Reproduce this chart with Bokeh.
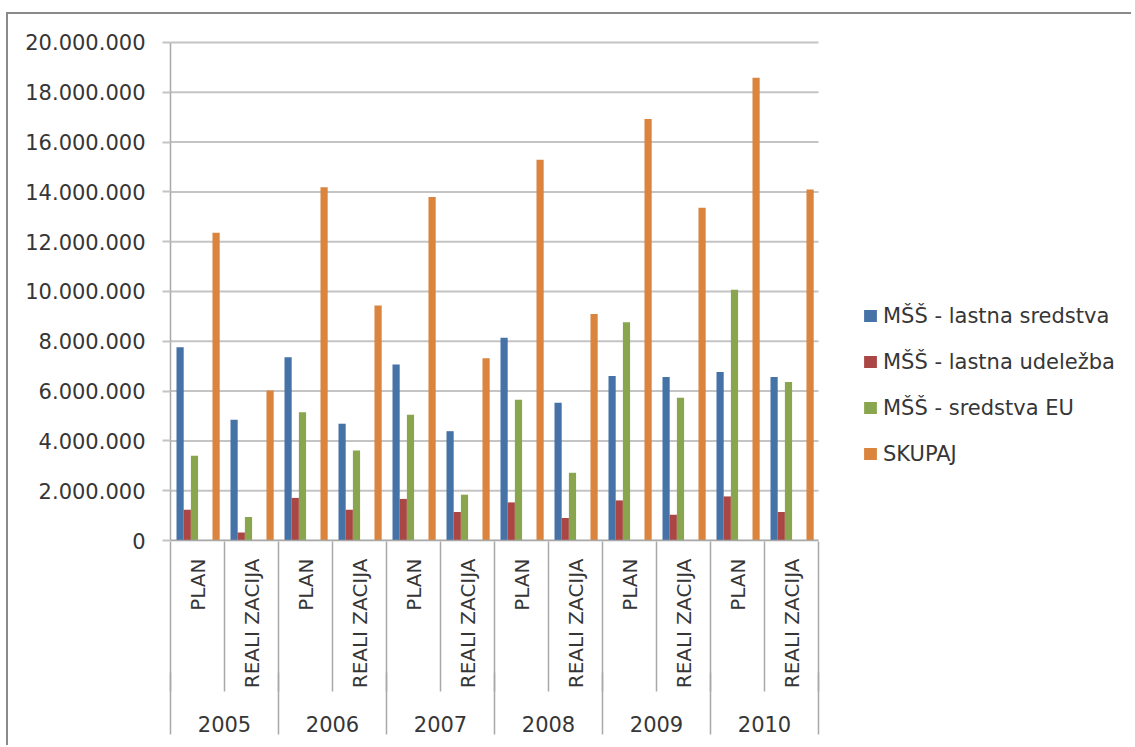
import math
from bokeh.plotting import figure
from bokeh.models import Range1d, FixedTicker, LinearAxis, Legend, LegendItem, ColumnDataSource
from bokeh.embed import file_html
from bokeh.resources import INLINE

# ---------------- data ----------------
years = ["2005", "2006", "2007", "2008", "2009", "2010"]
phases = ["PLAN", "REALI ZACIJA"]
series_names = ["MŠŠ - lastna sredstva", "MŠŠ - lastna udeležba", "MŠŠ - sredstva EU", "SKUPAJ"]

lastna_sredstva = [7760000, 4850000, 7360000, 4690000, 7070000, 4390000,
                   8140000, 5530000, 6610000, 6570000, 6770000, 6570000]
lastna_udelezba = [1230000, 320000, 1710000, 1230000, 1670000, 1140000,
                   1530000, 900000, 1610000, 1030000, 1770000, 1140000]
sredstva_eu = [3400000, 940000, 5150000, 3610000, 5050000, 1840000,
               5650000, 2720000, 8760000, 5730000, 10070000, 6370000]
skupaj = [12360000, 6020000, 14190000, 9440000, 13790000, 7320000,
          15290000, 9100000, 16930000, 13360000, 18580000, 14100000]

y_ticks = [0, 2000000, 4000000, 6000000, 8000000, 10000000,
           12000000, 14000000, 16000000, 18000000, 20000000]

colors = ["#4572A7", "#AA4643", "#89A54E", "#DB843D"]

# ---------------- layout constants ----------------
FONT = "DejaVu Sans"
TEXT_COLOR = "#363636"
LINE_GRAY = "#a8a8a8"
GRID_GRAY = "#c4c4c4"

W, H = 1125, 733
LEFT, TOP, BOTTOM = 162, 26, 207
CAT_PX = 54                      # pixel width of one category
n = len(years) * len(phases)
frame_w = W - LEFT
x_end = frame_w / CAT_PX

slot_w = 0.1333                 # width of one bar slot (fraction of a category)
first_left = 0.111              # left edge of first slot
slot_index = [0, 1, 2, 5]       # two empty slots before the total bar

values = [lastna_sredstva, lastna_udelezba, sredstva_eu, skupaj]

p = figure(width=W, height=H,
           x_range=Range1d(0, x_end), y_range=Range1d(0, 20080000),
           output_backend="svg", toolbar_location=None,
           min_border_left=LEFT, min_border_right=0,
           min_border_top=TOP, min_border_bottom=BOTTOM,
           x_axis_type=None, y_axis_type=None)
p.outline_line_color = None
p.background_fill_color = "white"
p.border_fill_color = "white"
p.xgrid.visible = False
p.ygrid.visible = False
p.styles = {"border-left": "2px solid #8a8a8a", "border-top": "2px solid #8a8a8a",
            "margin-left": "6px", "margin-top": "12px"}

# horizontal gridlines over the category span
p.segment(x0=[0] * len(y_ticks), x1=[n] * len(y_ticks), y0=y_ticks, y1=y_ticks,
          line_color=GRID_GRAY, line_width=2, level="underlay")

renderers = []
for k, vals in enumerate(values):
    off = first_left + slot_w * (slot_index[k] + 0.5)
    src = ColumnDataSource(dict(x=[i + off for i in range(n)], top=vals))
    r = p.vbar(x="x", top="top", width=slot_w, source=src,
               fill_color=colors[k], line_color=None)
    renderers.append(r)

# ---------------- y axis ----------------
yax = LinearAxis(ticker=FixedTicker(ticks=y_ticks, minor_ticks=[]))
yax.major_label_overrides = {v: f"{v:,}".replace(",", ".") for v in y_ticks}
yax.bounds = (0, 20000000)
yax.axis_line_color = LINE_GRAY
yax.axis_line_width = 1.5
yax.major_tick_out = 8
yax.major_tick_in = 0
yax.major_tick_line_color = GRID_GRAY
yax.major_tick_line_width = 2
yax.minor_tick_line_color = None
yax.major_label_standoff = 17
yax.major_label_text_font = FONT
yax.major_label_text_font_size = "21px"
yax.major_label_text_color = TEXT_COLOR
p.add_layout(yax, "left")

# ---------------- x axis: phases ----------------
centers = [i + 0.5 for i in range(n)]
ax1 = LinearAxis(ticker=FixedTicker(ticks=centers, minor_ticks=[]))
ax1.major_label_overrides = {c: phases[i % len(phases)] for i, c in enumerate(centers)}
ax1.bounds = (0, n)
ax1.axis_line_color = LINE_GRAY
ax1.axis_line_width = 1.5
ax1.major_tick_line_color = None
ax1.major_tick_out = 0
ax1.major_tick_in = 0
ax1.minor_tick_line_color = None
ax1.major_label_orientation = math.pi / 2
ax1.major_label_standoff = 18
ax1.major_label_text_font = FONT
ax1.major_label_text_font_size = "20px"
ax1.major_label_text_color = TEXT_COLOR
p.add_layout(ax1, "below")

# ---------------- x axis: years (+ separators between categories) ----------------
ycenters = [2 * j + 1 for j in range(len(years))]
ax2 = LinearAxis(ticker=FixedTicker(ticks=ycenters, minor_ticks=list(range(n + 1))))
ax2.major_label_overrides = {c: years[j] for j, c in enumerate(ycenters)}
ax2.bounds = (0, n)
ax2.axis_line_color = None
ax2.major_tick_line_color = None
ax2.major_tick_out = 0
ax2.major_tick_in = 0
ax2.minor_tick_line_color = LINE_GRAY
ax2.minor_tick_line_width = 1.5
ax2.minor_tick_out = 0
ax2.minor_tick_in = 150
ax2.major_label_standoff = 24
ax2.major_label_text_font = FONT
ax2.major_label_text_font_size = "21px"
ax2.major_label_text_color = TEXT_COLOR
p.add_layout(ax2, "below")

# ---------------- year separators (lower part) ----------------
ax3 = LinearAxis(ticker=FixedTicker(ticks=list(range(0, n + 1, 2)), minor_ticks=[]))
ax3.major_label_overrides = {t: "" for t in range(0, n + 1, 2)}
ax3.bounds = (0, n)
ax3.axis_line_color = None
ax3.major_tick_line_color = LINE_GRAY
ax3.major_tick_line_width = 1.5
ax3.major_tick_out = 0
ax3.major_tick_in = 62
ax3.minor_tick_line_color = None
ax3.major_label_standoff = 0
ax3.major_label_text_font_size = "1px"
p.add_layout(ax3, "below")

# ---------------- legend ----------------
legend = Legend(items=[LegendItem(label=series_names[k], renderers=[renderers[k]])
                       for k in range(len(series_names))],
                location=(692, 74), orientation="vertical")
legend.border_line_color = None
legend.background_fill_alpha = 0
legend.padding = 0
legend.margin = 0
legend.glyph_width = 16
legend.glyph_height = 15
legend.label_height = 25
legend.spacing = 21
legend.label_standoff = 5
legend.label_text_font = FONT
legend.label_text_font_size = "21px"
legend.label_text_color = TEXT_COLOR
p.add_layout(legend, "center")

open("out.html", "w").write(file_html(p, INLINE))
